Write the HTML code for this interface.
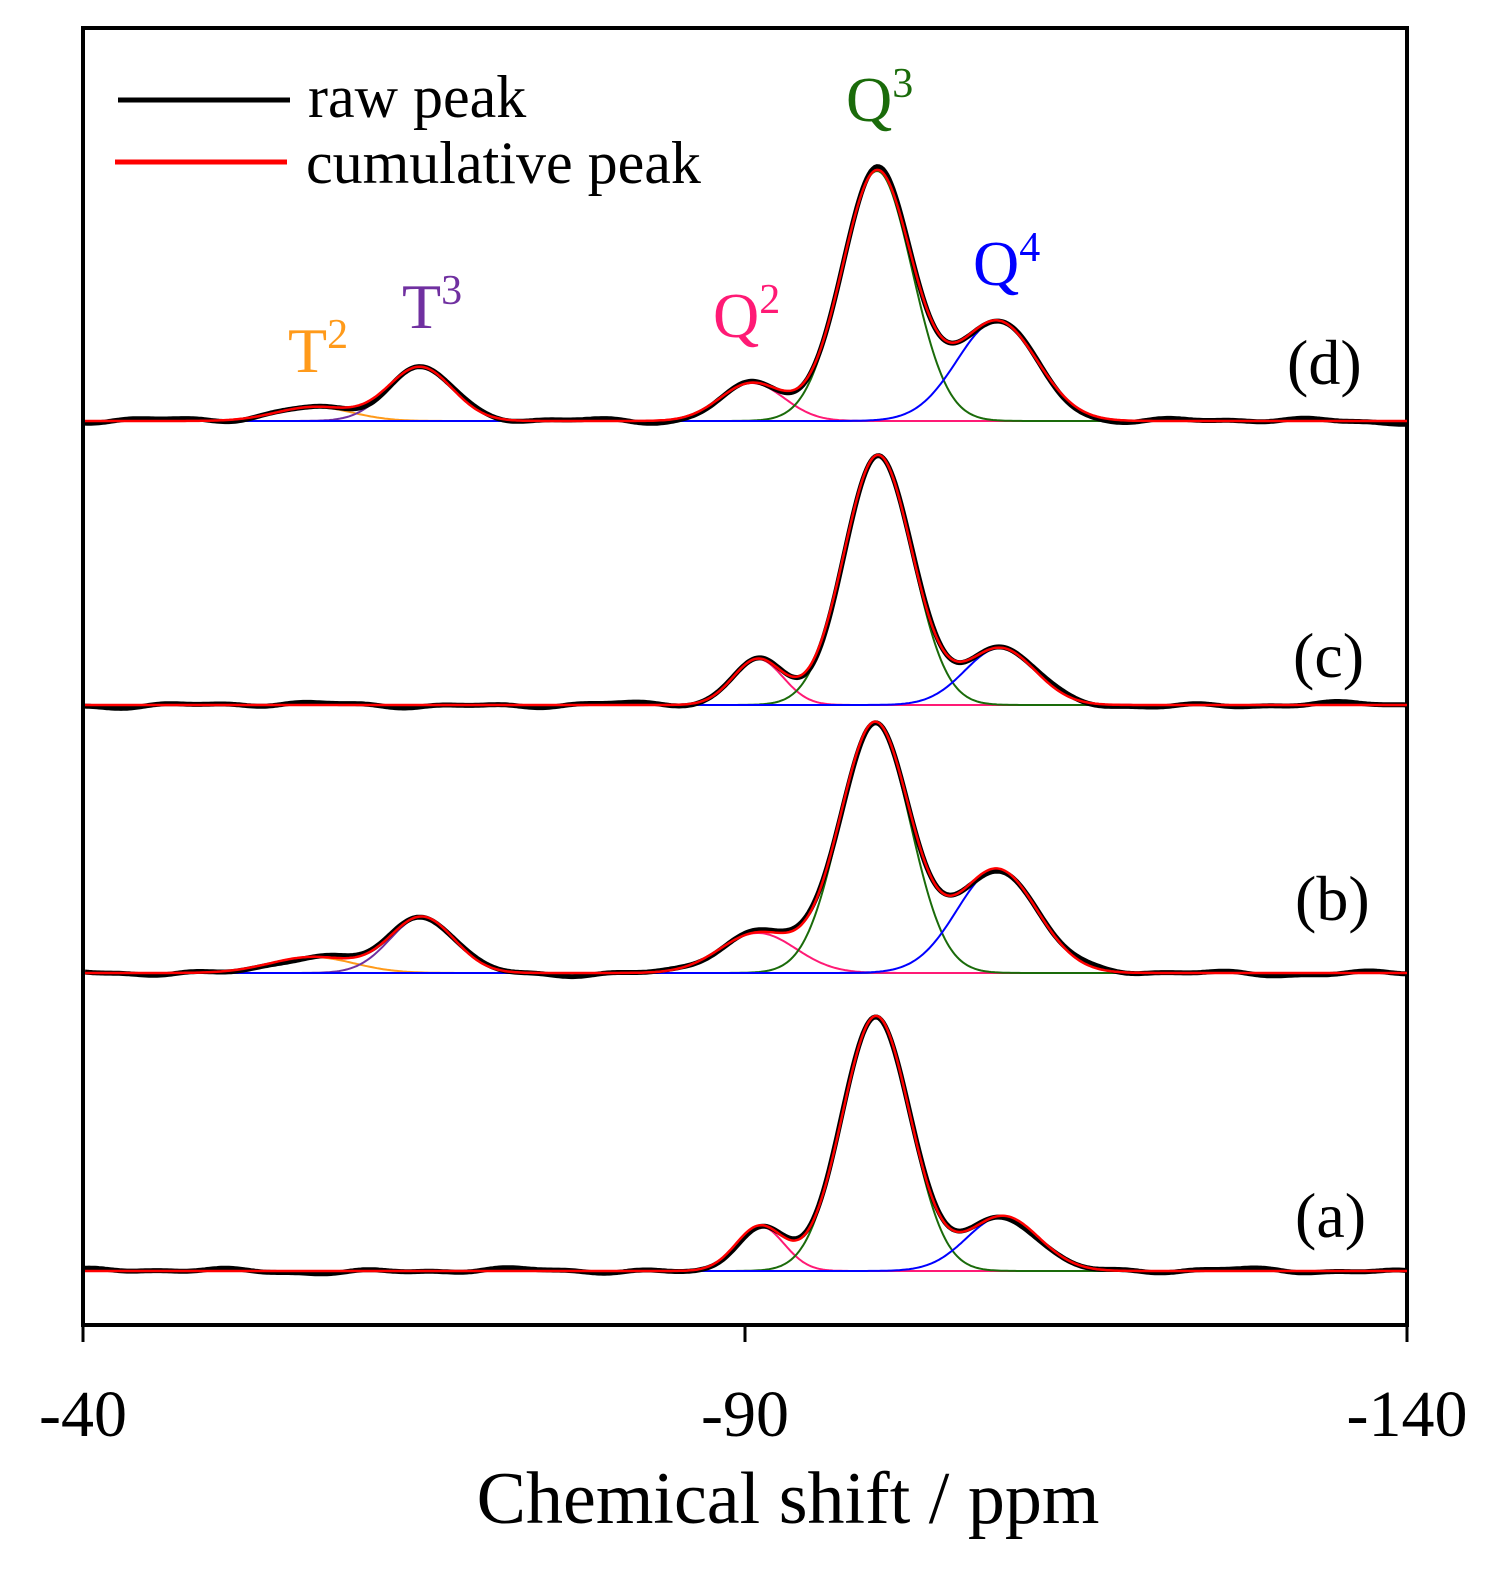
<!DOCTYPE html>
<html><head><meta charset="utf-8"><style>
html,body{margin:0;padding:0;background:#fff;overflow:hidden;width:1508px;height:1576px}
svg{display:block}
text{font-family:"Liberation Serif",serif}
</style></head><body>
<svg id="s" width="1508" height="1576" viewBox="0 0 1508 1576" xmlns="http://www.w3.org/2000/svg">
<rect x="83" y="28" width="1324" height="1297" fill="none" stroke="#000" stroke-width="4"/>
<g stroke="#000" stroke-width="3">
<line x1="83" y1="1325" x2="83" y2="1342"/>
<line x1="745" y1="1325" x2="745" y2="1342"/>
<line x1="1407" y1="1325" x2="1407" y2="1342"/>
</g>
<g font-size="66" text-anchor="middle" fill="#000">
<text x="83" y="1436">-40</text>
<text x="745" y="1436">-90</text>
<text x="1407" y="1436">-140</text>
</g>
<text x="788" y="1523" font-size="74" text-anchor="middle">Chemical shift / ppm</text>
<line x1="118" y1="100" x2="290" y2="100" stroke="#000" stroke-width="5"/>
<line x1="115" y1="162" x2="287" y2="162" stroke="#f00" stroke-width="5"/>
<text x="308" y="117" font-size="60">raw peak</text>
<text x="306" y="183" font-size="60">cumulative peak</text>
<text x="1287" y="384" font-size="64">(d)</text>
<text x="1293" y="677" font-size="64">(c)</text>
<text x="1295" y="920" font-size="64">(b)</text>
<text x="1295" y="1237" font-size="64">(a)</text>
<text x="846" y="121" font-size="64" fill="#1a6b0a">Q<tspan font-size="42" dy="-24">3</tspan></text>
<text x="973" y="285" font-size="64" fill="#0000ff">Q<tspan font-size="42" dy="-24">4</tspan></text>
<text x="713" y="337" font-size="64" fill="#ff1a75">Q<tspan font-size="42" dy="-24">2</tspan></text>
<text x="402" y="328" font-size="64" fill="#7030a0">T<tspan font-size="42" dy="-24">3</tspan></text>
<text x="288" y="372" font-size="64" fill="#ff9a1a">T<tspan font-size="42" dy="-24">2</tspan></text>
<g id="g"></g>
</svg>
<script>
var C={Q3:"#1a6b0a",Q4:"#0000ff",Q2:"#ff1a75",T3:"#7030a0",T2:"#ff9a1a"};
var specs=[
 {b:1271,seed:1,p:[["Q2",760,45,24],["Q3",876,255,34],["Q4",1003,55,36]]},
 {b:973,seed:2,p:[["T2",312,16,42],["T3",422,56,32],["Q2",758,40,38],["Q3",875,250,35],["Q4",997,104,40]]},
 {b:705,seed:3,p:[["Q2",758,46,25],["Q3",878,250,34],["Q4",1000,57,35]]},
 {b:421,seed:4,p:[["T2",314,14,38],["T3",420,54,32],["Q2",752,38,32],["Q3",877,250,35],["Q4",997,100,40]]}
];
var g=document.getElementById("g"),out="";
function gs(x,c,h,s){return h*Math.exp(-(x-c)*(x-c)/(2*s*s));}
specs.forEach(function(sp){
  var comps="",raw="",cum="";
  sp.p.forEach(function(p){
    var d="";
    for(var x=85;x<=1407;x+=2){d+=(x==85?"M":"L")+x+","+(sp.b-gs(x,p[1],p[2],p[3])).toFixed(1);}
    comps+='<path d="'+d+'" fill="none" stroke="'+C[p[0]]+'" stroke-width="2"/>';
  });
  var k=sp.seed;
  for(var x=85;x<=1407;x+=2){
    var y=0;sp.p.forEach(function(p){y+=gs(x,p[1],p[2],p[3]);});
    var n=1.6*Math.sin(x/23+k)+1.2*Math.sin(x/57+2*k)+0.8*Math.sin(x/11+3*k);
    raw+=(x==85?"M":"L")+x+","+(sp.b-y+n).toFixed(1);
    cum+=(x==85?"M":"L")+x+","+(sp.b-y).toFixed(1);
  }
  out+=comps+'<path d="'+raw+'" fill="none" stroke="#000" stroke-width="5"/>'+
       '<path d="'+cum+'" fill="none" stroke="#f00" stroke-width="2.5"/>';
});
g.innerHTML=out;
</script>
</body></html>
